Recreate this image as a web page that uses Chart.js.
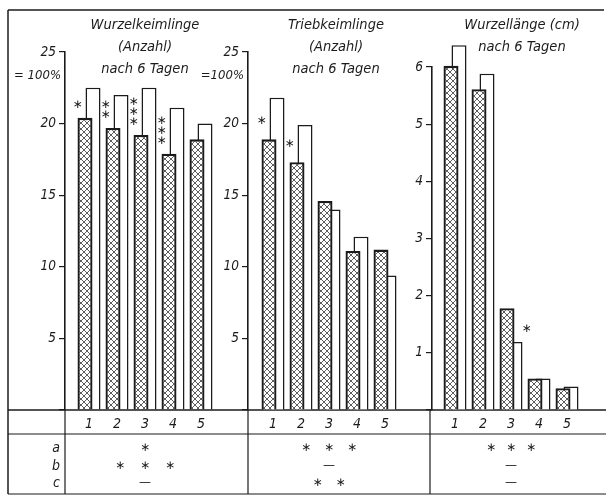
<!DOCTYPE html>
<html>
<head>
<meta charset="utf-8">
<script src="https://cdn.jsdelivr.net/npm/chart.js@4"></script>
<style>
  html, body { margin: 0; padding: 0; background: #fff; }
  #wrap { position: relative; width: 606px; height: 497px; }
  #wrap canvas { position: absolute; left: 0; top: 0; }
</style>
</head>
<body>
<div id="wrap">
  <canvas id="wurzel" width="606" height="497"></canvas>
  <canvas id="trieb" width="606" height="497"></canvas>
  <canvas id="laenge" width="606" height="497"></canvas>
</div>
<script>
// values
const days = [1, 2, 3, 4, 5];

const wurzelHatched = [20.4, 19.7, 19.2, 17.9, 18.9];
const wurzelOpen    = [22.5, 22.0, 22.5, 21.1, 20.0];
const triebHatched  = [18.9, 17.3, 14.6, 11.1, 11.2];
const triebOpen     = [21.8, 19.9, 14.0, 12.1, 9.4];
const laengeHatched = [6.02, 5.61, 1.78, 0.55, 0.38];
const laengeOpen    = [6.38, 5.88, 1.19, 0.55, 0.41];

// asterisks above the bars
const wurzelStars = [1, 2, 3, 3, 0];
const triebStars  = [1, 1, 0, 0, 0];
const laengeStars = [0, 0, 1, 0, 0];

// significance table rows a, b, c
const sigLabels = ['a', 'b', 'c'];
const wurzelSig = [['∗'], ['∗', '∗', '∗'], ['—']];
const triebSig  = [['∗', '∗', '∗'], ['—'], ['∗', '∗']];
const laengeSig = [['∗', '∗', '∗'], ['—'], ['—']];

const FONT = "'Liberation Sans Narrow', 'DejaVu Sans Condensed', 'DejaVu Sans', sans-serif";
const INK = '#1b1b1b';
const STEP = 28;          // px between day columns
const BASE_Y = 410;       // bar baseline
const ROW_LINE_Y = 434;
const BOTTOM_Y = 494;
const ROW_Y = [448, 466, 483];

function hatchPattern() {
  const s = 6;
  const c = document.createElement('canvas');
  c.width = s; c.height = s;
  const g = c.getContext('2d');
  g.fillStyle = '#fff';
  g.fillRect(0, 0, s, s);
  g.strokeStyle = '#333';
  g.lineWidth = 0.8;
  g.beginPath();
  g.moveTo(-1, -1); g.lineTo(s + 1, s + 1);
  g.moveTo(-1, s + 1); g.lineTo(s + 1, -1);
  g.stroke();
  return g.createPattern(c, 'repeat');
}
const hatch = hatchPattern();

function italic(size) {
  return 'italic ' + size + 'px ' + FONT;
}

// frame of the whole figure and the row labels of the table
const framePlugin = {
  id: 'frame',
  afterDraw(chart) {
    const ctx = chart.ctx;
    ctx.save();
    ctx.strokeStyle = INK;
    ctx.lineWidth = 1.5;
    const line = (x1, y1, x2, y2) => {
      ctx.beginPath(); ctx.moveTo(x1, y1); ctx.lineTo(x2, y2); ctx.stroke();
    };
    line(8, 10, 604, 10);
    line(8, 10, 8, BOTTOM_Y);
    line(8, BASE_Y, 606, BASE_Y);
    ctx.lineWidth = 1.2;
    line(8, ROW_LINE_Y, 606, ROW_LINE_Y);
    line(8, BOTTOM_Y, 606, BOTTOM_Y);
    line(65, BASE_Y, 65, BOTTOM_Y);
    line(248, BASE_Y, 248, BOTTOM_Y);
    line(430, BASE_Y, 430, BOTTOM_Y);
    ctx.fillStyle = INK;
    ctx.font = italic(14);
    ctx.textAlign = 'right';
    ctx.textBaseline = 'middle';
    sigLabels.forEach((t, i) => ctx.fillText(t, 60, ROW_Y[i]));
    ctx.restore();
  }
};

function panelPlugin(p) {
  return {
    id: 'panelText',
    afterDraw(chart) {
      const ctx = chart.ctx;
      const xs = chart.scales.x;
      ctx.save();
      ctx.fillStyle = INK;
      ctx.textBaseline = 'middle';

      // title
      ctx.font = italic(14.5);
      ctx.textAlign = 'center';
      p.title.forEach((t, i) => ctx.fillText(t, p.titleX, p.titleY + i * 22));

      // "= 100%" under the top tick
      if (p.hundred) {
        ctx.font = italic(13);
        ctx.textAlign = 'right';
        ctx.fillText(p.hundred, p.axisX - 4, 76);
      }

      // asterisks next to the bars
      ctx.font = '12px "DejaVu Sans"';
      ctx.textAlign = 'center';
      const meta = chart.getDatasetMeta(p.starSide === 'left' ? 0 : 1);
      p.stars.forEach((n, i) => {
        const el = meta.data[i];
        const x = p.starSide === 'left' ? el.x - el.width / 2 : el.x + el.width / 2 + 4;
        for (let k = 0; k < n; k++) {
          ctx.fillText('∗', x, el.y + p.starDy - k * 10);
        }
      });

      // significance table, centred under day 3
      const cx = xs.getPixelForValue(3);
      ctx.font = '12px "DejaVu Sans"';
      p.sig.forEach((row, r) => {
        row.forEach((g, k) => {
          const x = cx + (k - (row.length - 1) / 2) * p.sigStep;
          ctx.fillText(g, x, ROW_Y[r]);
        });
      });
      ctx.restore();
    }
  };
}

function makePanel(p) {
  const xMin = 1 - (p.firstX - p.axisX) / STEP;
  const xMax = xMin + (p.rightX - p.axisX) / STEP;
  const barStyle = {
    categoryPercentage: 0.5714,
    barPercentage: 1.875,
    borderColor: INK,
    borderSkipped: 'start',
    clip: false
  };
  const plugins = [panelPlugin(p)];
  if (p.frame) plugins.push(framePlugin);

  new Chart(document.getElementById(p.id), {
    type: 'bar',
    data: {
      datasets: [
        Object.assign({
          data: days.map((d, i) => ({ x: d, y: p.hatched[i] })),
          backgroundColor: hatch,
          borderWidth: 2.3
        }, barStyle),
        Object.assign({
          data: days.map((d, i) => ({ x: d, y: p.open[i] })),
          backgroundColor: '#fff',
          borderWidth: 1.5
        }, barStyle)
      ]
    },
    options: {
      responsive: false,
      animation: false,
      layout: {
        padding: {
          left: p.axisX - 40,
          right: 606 - p.rightX,
          top: p.topY,
          bottom: 497 - BASE_Y - 30
        }
      },
      scales: {
        x: {
          type: 'linear',
          offset: false,
          min: xMin,
          max: xMax,
          afterBuildTicks: (s) => { s.ticks = days.map(v => ({ value: v })); },
          afterFit: (s) => { s.height = 30; },
          grid: { display: false, drawTicks: false },
          border: { display: false },
          ticks: { font: { family: FONT, size: 14, style: 'italic' }, color: INK, padding: 6 }
        },
        y: {
          min: 0,
          max: p.yMax,
          afterFit: (s) => { s.width = 40; },
          ticks: {
            stepSize: p.yStep,
            callback: (v) => (v === 0 ? '' : v),
            font: { family: FONT, size: 13.5, style: 'italic' },
            color: INK,
            padding: 3
          },
          grid: { drawOnChartArea: false, drawTicks: true, tickLength: 6, color: INK, lineWidth: 1.2 },
          border: { display: true, color: INK, width: 1.6 }
        }
      },
      plugins: {
        legend: { display: false },
        tooltip: { enabled: false }
      }
    },
    plugins: plugins
  });
}

makePanel({
  id: 'wurzel', hatched: wurzelHatched, open: wurzelOpen, yMax: 25, yStep: 5,
  axisX: 65, firstX: 89, rightX: 240, topY: 52,
  title: ['Wurzelkeimlinge', '(Anzahl)', 'nach 6 Tagen'], titleX: 145, titleY: 25,
  hundred: '= 100%', stars: wurzelStars, starSide: 'left', starDy: -13,
  sig: wurzelSig, sigStep: 25, frame: true
});
makePanel({
  id: 'trieb', hatched: triebHatched, open: triebOpen, yMax: 25, yStep: 5,
  axisX: 248, firstX: 273, rightX: 425, topY: 52,
  title: ['Triebkeimlinge', '(Anzahl)', 'nach 6 Tagen'], titleX: 336, titleY: 25,
  hundred: '=100%', stars: triebStars, starSide: 'left', starDy: -18,
  sig: triebSig, sigStep: 23
});
makePanel({
  id: 'laenge', hatched: laengeHatched, open: laengeOpen, yMax: 6, yStep: 1,
  axisX: 432, firstX: 455, rightX: 600, topY: 67,
  title: ['Wurzellänge (cm)', 'nach 6 Tagen'], titleX: 522, titleY: 25,
  hundred: null, stars: laengeStars, starSide: 'right', starDy: -13,
  sig: laengeSig, sigStep: 20
});
</script>
</body>
</html>
